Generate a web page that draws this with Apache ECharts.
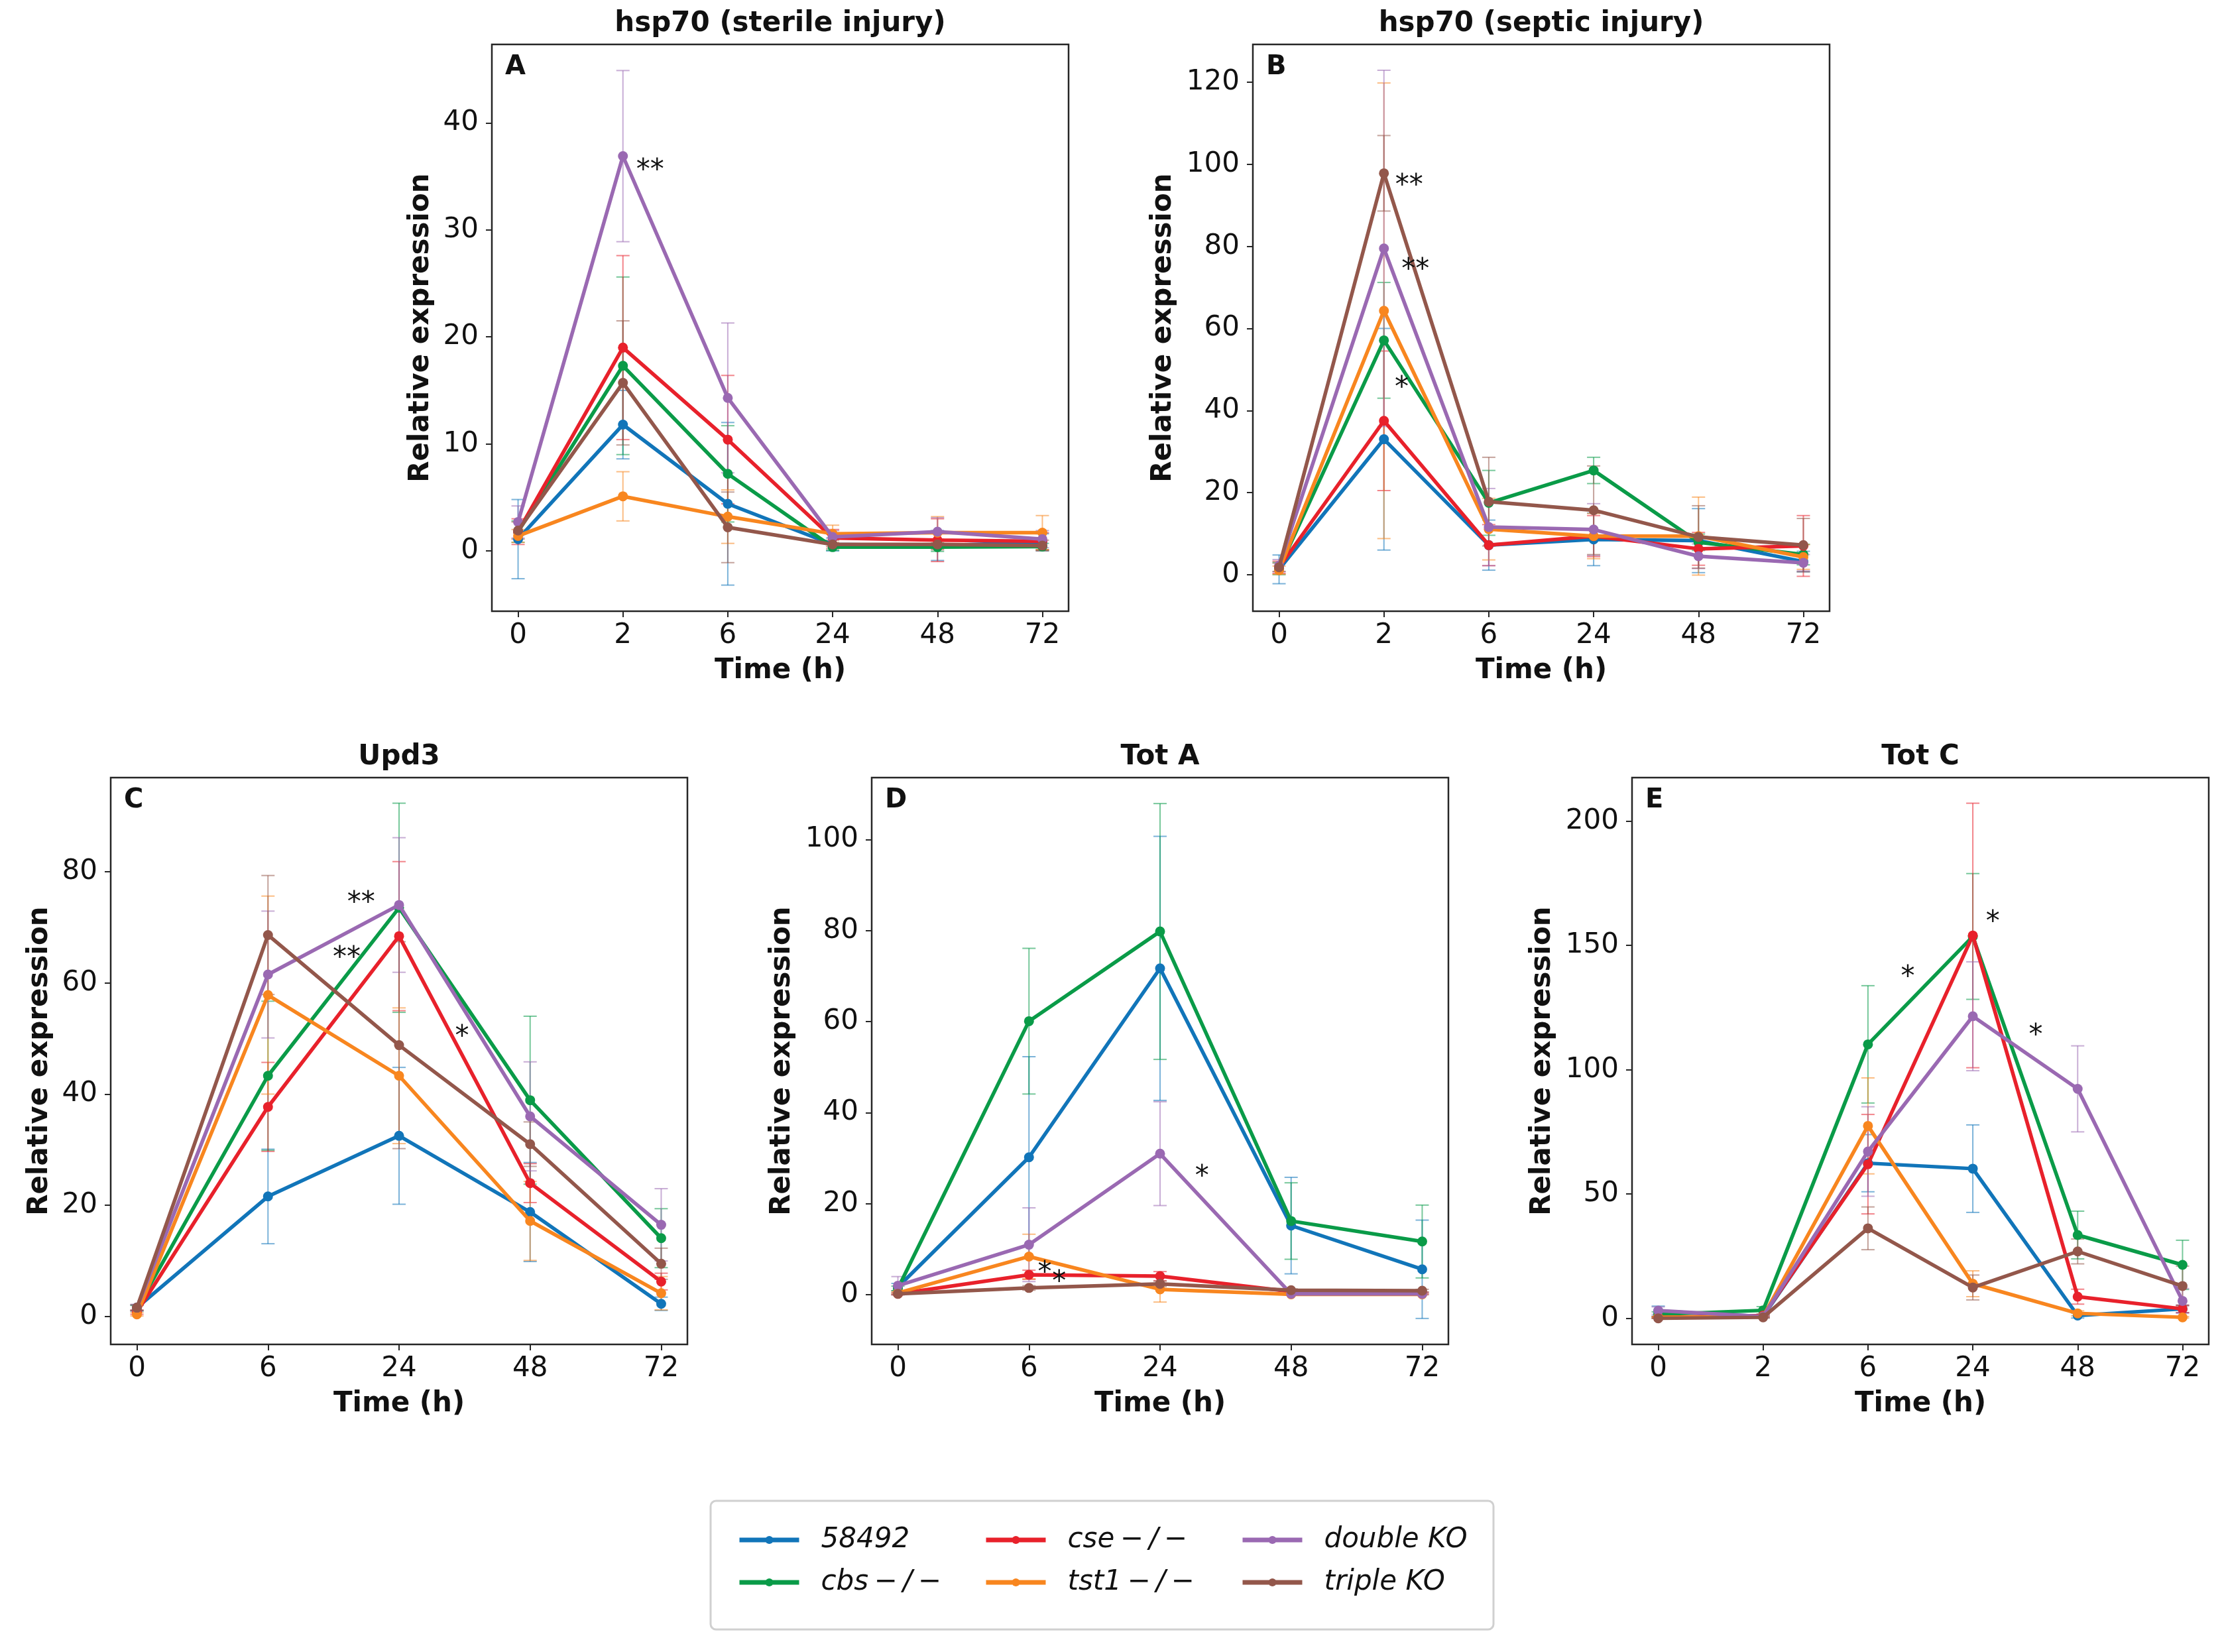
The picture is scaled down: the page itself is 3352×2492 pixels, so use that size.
<!DOCTYPE html>
<html><head><meta charset="utf-8">
<script src="https://cdn.jsdelivr.net/npm/echarts@6/dist/echarts.min.js"></script>
<style>html,body{margin:0;padding:0;background:#fff}#c{width:3352px;height:2492px}</style>
</head><body><div id="c"></div>
<script>
// ---------- DATA ----------
const groupNames = ['58492', 'cbs\u2009\u2212\u2009/\u2009\u2212', 'cse\u2009\u2212\u2009/\u2009\u2212', 'tst1\u2009\u2212\u2009/\u2009\u2212', 'double KO', 'triple KO'];
const timesSix = ['0', '2', '6', '24', '48', '72'];
const timesFive = ['0', '6', '24', '48', '72'];

// rows: 58492, cbs, cse, tst1, double KO, triple KO
const sterileMean = [
  [1.1, 11.8, 4.4, 0.6, 0.5, 0.8],
  [1.8, 17.3, 7.2, 0.35, 0.35, 0.4],
  [1.8, 19.0, 10.4, 1.2, 1.0, 0.9],
  [1.4, 5.1, 3.2, 1.6, 1.7, 1.7],
  [2.7, 36.9, 14.3, 1.3, 1.8, 1.1],
  [1.9, 15.7, 2.2, 0.6, 0.6, 0.5]
];
const sterileErr = [
  [3.7, 3.2, 7.6, 0.6, 1.4, 0.8],
  [1.0, 8.3, 4.5, 0.3, 0.4, 0.3],
  [1.2, 8.6, 6.0, 0.8, 2.0, 0.8],
  [0.6, 2.3, 2.5, 0.8, 1.5, 1.6],
  [1.5, 8.0, 7.0, 0.6, 1.3, 0.8],
  [0.8, 5.8, 3.3, 0.4, 0.5, 0.5]
];
const sterileStars = [[1.26, 35.5, '**']];

const septicMean = [
  [1.3, 33.0, 7.2, 8.6, 8.3, 3.2],
  [1.5, 57.1, 17.5, 25.4, 7.9, 4.9],
  [1.8, 37.5, 7.2, 9.4, 6.3, 7.0],
  [1.1, 64.3, 11.1, 9.4, 9.4, 4.3],
  [2.2, 79.5, 11.6, 11.0, 4.5, 2.9],
  [1.8, 97.8, 17.8, 15.7, 9.2, 7.2]
];
const septicErr = [
  [3.5, 27.0, 6.1, 6.4, 7.8, 2.5],
  [1.5, 14.1, 7.9, 3.2, 2.0, 2.5],
  [1.5, 17.0, 5.0, 5.0, 4.0, 7.4],
  [1.0, 55.5, 7.5, 5.5, 9.5, 3.0],
  [1.5, 43.4, 9.4, 6.3, 3.0, 2.0],
  [1.0, 9.2, 10.8, 10.8, 7.6, 6.5]
];
const septicStars = [[1.24, 94.6, '**'], [1.30, 74.1, '**'], [1.17, 45.4, '*']];

const upd3Mean = [
  [1.6, 21.6, 32.5, 18.8, 2.3],
  [1.5, 43.3, 73.5, 38.9, 14.1],
  [0.8, 37.7, 68.4, 24.0, 6.3],
  [0.4, 57.8, 43.3, 17.2, 4.2],
  [1.6, 61.5, 74.0, 36.0, 16.5],
  [1.6, 68.6, 48.8, 31.0, 9.5]
];
const upd3Err = [
  [0.5, 8.5, 12.3, 8.9, 1.2],
  [0.5, 13.4, 18.8, 15.1, 5.3],
  [0.4, 8.0, 13.4, 3.5, 1.5],
  [0.3, 17.8, 12.2, 7.1, 3.0],
  [0.6, 11.4, 12.1, 9.8, 6.5],
  [0.5, 10.7, 18.6, 4.0, 2.8]
];
const upd3Stars = [[1.71, 74.2, '**'], [1.60, 64.4, '**'], [2.48, 50.2, '*']];

const totAMean = [
  [1.7, 30.2, 71.7, 15.2, 5.6],
  [1.4, 60.1, 79.8, 16.2, 11.7],
  [0.2, 4.4, 4.1, 0.7, 0.4],
  [0.4, 8.4, 1.2, 0.1, 0.1],
  [2.0, 11.0, 31.0, 0.2, 0.2],
  [0.2, 1.5, 2.4, 1.0, 0.9]
];
const totAErr = [
  [0.8, 22.1, 29.0, 10.6, 10.8],
  [0.5, 16.0, 28.1, 8.4, 8.0],
  [0.2, 1.0, 1.0, 0.3, 0.2],
  [0.3, 4.9, 2.8, 0.1, 0.1],
  [2.0, 8.1, 11.4, 0.2, 0.2],
  [0.2, 0.5, 0.6, 0.3, 0.3]
];
const totAStars = [[1.12, 4.6, '*'], [1.23, 2.7, '*'], [2.32, 25.8, '*']];

const totCMean = [
  [2.9, 0.7, 62.4, 60.2, 1.1, 3.8],
  [1.6, 3.2, 110.2, 153.6, 33.5, 21.5],
  [0.4, 1.1, 62.0, 154.0, 8.7, 3.8],
  [0.4, 0.7, 77.4, 13.9, 2.0, 0.4],
  [3.1, 0.7, 67.1, 121.5, 92.3, 7.0],
  [0.0, 0.4, 36.2, 12.4, 26.9, 13.0]
];
const totCErr = [
  [2.0, 0.5, 11.5, 17.6, 1.0, 1.5],
  [1.0, 1.5, 23.6, 25.3, 9.6, 9.9],
  [0.3, 0.5, 20.0, 53.2, 3.0, 1.5],
  [0.3, 0.4, 19.3, 5.2, 1.0, 0.3],
  [1.5, 0.5, 18.0, 21.9, 17.3, 5.0],
  [0.1, 0.3, 8.6, 5.0, 5.0, 8.0]
];
const totCStars = [[2.38, 136.9, '*'], [3.19, 159.1, '*'], [3.60, 113.4, '*']];

const yTicksA = [0, 10, 20, 30, 40];
const yTicksB = [0, 20, 40, 60, 80, 100, 120];
const yTicksC = [0, 20, 40, 60, 80];
const yTicksD = [0, 20, 40, 60, 80, 100];
const yTicksE = [0, 50, 100, 150, 200];

// ---------- STYLE / LAYOUT ----------
const colors = ['#1175b9', '#0a9b48', '#e8212b', '#f8861f', '#9a69b2', '#93574b'];
const FONT = 'DejaVu Sans';
const GW = 870, GH = 855;
const panels = [
  {letter: 'A', title: 'hsp70 (sterile injury)', cats: timesSix, mean: sterileMean, err: sterileErr, stars: sterileStars, ticks: yTicksA, ymin: -5.64, ymax: 47.34, left: 742, top: 67, yGap: 86},
  {letter: 'B', title: 'hsp70 (septic injury)', cats: timesSix, mean: septicMean, err: septicErr, stars: septicStars, ticks: yTicksB, ymin: -8.9, ymax: 129.2, left: 1890, top: 67, yGap: 114},
  {letter: 'C', title: 'Upd3', cats: timesFive, mean: upd3Mean, err: upd3Err, stars: upd3Stars, ticks: yTicksC, ymin: -5.0, ymax: 96.9, left: 167, top: 1173, yGap: 86},
  {letter: 'D', title: 'Tot A', cats: timesFive, mean: totAMean, err: totAErr, stars: totAStars, ticks: yTicksD, ymin: -10.9, ymax: 113.6, left: 1315, top: 1173, yGap: 114},
  {letter: 'E', title: 'Tot C', cats: timesSix, mean: totCMean, err: totCErr, stars: totCStars, ticks: yTicksE, ymin: -10.5, ymax: 217.5, left: 2462, top: 1173, yGap: 114}
];

const grid = [], xAxis = [], yAxis = [], series = [], graphic = [];

function errRender(params, api) {
  const x = api.value(0), m = api.value(1), e = api.value(2);
  const hi = api.coord([x, m + e]);
  const lo = api.coord([x, m - e]);
  const cw = 10;
  const st = {stroke: api.visual('color'), lineWidth: 2, opacity: 0.55};
  return {type: 'group', children: [
    {type: 'line', shape: {x1: hi[0], y1: hi[1], x2: lo[0], y2: lo[1]}, style: st},
    {type: 'line', shape: {x1: hi[0] - cw, y1: hi[1], x2: hi[0] + cw, y2: hi[1]}, style: st},
    {type: 'line', shape: {x1: lo[0] - cw, y1: lo[1], x2: lo[0] + cw, y2: lo[1]}, style: st}
  ]};
}

panels.forEach((p, pi) => {
  const n = p.cats.length;
  const pad = (n - 1) * 0.05;
  grid.push({left: p.left, top: p.top, width: GW, height: GH, show: true, borderColor: '#262626', borderWidth: 2.5, backgroundColor: 'transparent', containLabel: false});
  const cats = p.cats;
  xAxis.push({
    type: 'value', gridIndex: pi, min: -pad, max: (n - 1) + pad, position: 'bottom',
    name: 'Time (h)', nameLocation: 'middle', nameGap: 69,
    nameTextStyle: {fontFamily: FONT, fontSize: 42, fontWeight: 'bold', color: '#111'},
    splitLine: {show: false},
    axisLine: {show: false, onZero: false},
    axisTick: {show: true, inside: false, length: 9, lineStyle: {color: '#262626', width: 2}, customValues: cats.map((c, i) => i)},
    axisLabel: {fontFamily: FONT, fontSize: 42, color: '#111', margin: 16, customValues: cats.map((c, i) => i), formatter: v => cats[Math.round(v)]}
  });
  yAxis.push({
    type: 'value', gridIndex: pi, min: p.ymin, max: p.ymax, position: 'left',
    name: 'Relative expression', nameLocation: 'middle', nameGap: p.yGap,
    nameTextStyle: {fontFamily: FONT, fontSize: 42, fontWeight: 'bold', color: '#111'},
    splitLine: {show: false},
    axisLine: {show: false, onZero: false},
    axisTick: {show: true, inside: false, length: 9, lineStyle: {color: '#262626', width: 2}, customValues: p.ticks},
    axisLabel: {fontFamily: FONT, fontSize: 42, color: '#111', margin: 20, customValues: p.ticks, formatter: v => String(v)}
  });
  // error bars
  p.mean.forEach((row, si) => {
    series.push({
      type: 'custom', name: groupNames[si] + ' err', xAxisIndex: pi, yAxisIndex: pi,
      itemStyle: {color: colors[si]}, z: 2, silent: true,
      renderItem: errRender,
      data: row.map((v, i) => [i, v, p.err[si][i]])
    });
  });
  p.mean.forEach((row, si) => {
    series.push({
      type: 'line', name: groupNames[si], xAxisIndex: pi, yAxisIndex: pi,
      color: colors[si], z: 3 + si * 0.01, silent: true,
      symbol: 'circle', symbolSize: 15, showSymbol: true,
      lineStyle: {width: 5.5, color: colors[si]},
      itemStyle: {color: colors[si]},
      data: row.map((v, i) => [i, v])
    });
  });
  // significance stars
  const stars = p.stars;
  series.push({
    type: 'custom', name: 'stars' + pi, xAxisIndex: pi, yAxisIndex: pi, z: 5, silent: true,
    renderItem: (params, api) => {
      const c = api.coord([api.value(0), api.value(1)]);
      return {type: 'text', x: c[0], y: c[1], style: {text: stars[params.dataIndex][2], fontFamily: FONT, fontSize: 42, fill: '#111', align: 'center', verticalAlign: 'middle'}};
    },
    data: stars.map(s => [s[0], s[1]])
  });
  graphic.push({type: 'text', x: p.left + GW / 2, y: p.top - 31, style: {text: p.title, font: 'bold 42px "DejaVu Sans"', fill: '#111', align: 'center', verticalAlign: 'middle'}});
  graphic.push({type: 'text', x: p.left + 20, y: p.top + 35, style: {text: p.letter, font: 'bold 40px "DejaVu Sans"', fill: '#111', align: 'left', verticalAlign: 'middle'}});
});

// legend box
graphic.push({type: 'rect', shape: {x: 1072, y: 2264, width: 1181, height: 194, r: 8}, style: {fill: '#fff', stroke: '#d0d0d0', lineWidth: 3}, z: -1});

const legendPos = [
  [0, 1112, 2326], [1, 1112, 2390],
  [2, 1484, 2326], [3, 1484, 2390],
  [4, 1871, 2326], [5, 1871, 2390]
];
const legend = legendPos.map(([gi, x, yc]) => ({
  data: [groupNames[gi]], left: x, top: yc - 24, padding: 0, orient: 'horizontal',
  itemWidth: 90, itemHeight: 15, selectedMode: false,
  lineStyle: {width: 7},
  textStyle: {fontFamily: FONT, fontSize: 42, fontStyle: 'italic', color: '#111', padding: [0, 0, 0, 28]}
}));

const chart = echarts.init(document.getElementById('c'), null, {renderer: 'canvas'});
chart.setOption({
  animation: false,
  backgroundColor: '#fff',
  grid, xAxis, yAxis, series, graphic, legend
});
</script>
</body></html>
